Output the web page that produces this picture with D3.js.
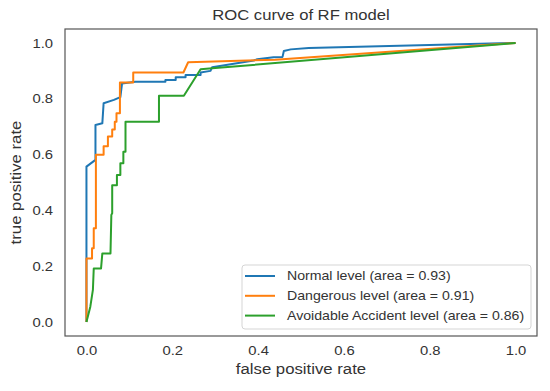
<!DOCTYPE html>
<html>
<head>
<meta charset="utf-8">
<script src="https://cdn.jsdelivr.net/npm/d3@7.9.0/dist/d3.min.js"></script>
<style>
  body { margin: 0; background: #fff; }
  svg { display: block; font-family: "Liberation Sans", Arial, sans-serif; }
</style>
</head>
<body>
<svg id="chart" width="550" height="391"></svg>
<script>
const title = 'ROC curve of RF model';
const xTicks = [0, 0.2, 0.4, 0.6, 0.8, 1.0];
const yTicks = [0, 0.2, 0.4, 0.6, 0.8, 1.0];

const labels = [
  'Normal level (area = 0.93)',
  'Dangerous level (area = 0.91)',
  'Avoidable Accident level (area = 0.86)'
];
const colors = ['#1f77b4', '#ff7f0e', '#2ca02c'];

const normalFpr = [0, 0, 0.021, 0.021, 0.037, 0.040, 0.064, 0.079, 0.083, 0.114, 0.149, 0.184, 0.184, 0.208, 0.208, 0.231, 0.231, 0.266, 0.266, 0.289, 0.293, 0.39, 0.398, 0.436, 0.457, 0.46, 0.476, 0.518, 1];
const normalTpr = [0, 0.557, 0.581, 0.706, 0.712, 0.784, 0.796, 0.806, 0.855, 0.861, 0.861, 0.861, 0.867, 0.867, 0.877, 0.877, 0.885, 0.885, 0.894, 0.90, 0.913, 0.937, 0.942, 0.949, 0.95, 0.971, 0.977, 0.982, 1];

const dangerFpr = [0, 0, 0.013, 0.013, 0.017, 0.017, 0.022, 0.022, 0.040, 0.040, 0.050, 0.050, 0.060, 0.060, 0.066, 0.066, 0.070, 0.070, 0.078, 0.078, 0.109, 0.109, 0.226, 0.237, 0.44, 1];
const dangerTpr = [0, 0.228, 0.228, 0.264, 0.264, 0.336, 0.336, 0.599, 0.599, 0.63, 0.63, 0.665, 0.665, 0.69, 0.69, 0.718, 0.718, 0.748, 0.748, 0.858, 0.858, 0.894, 0.894, 0.931, 0.94, 1];

const avoidFpr = [0, 0.009, 0.015, 0.017, 0.034, 0.037, 0.056, 0.058, 0.060, 0.060, 0.071, 0.071, 0.079, 0.079, 0.086, 0.086, 0.091, 0.091, 0.169, 0.169, 0.227, 0.266, 0.293, 1];
const avoidTpr = [0, 0.055, 0.115, 0.192, 0.192, 0.246, 0.246, 0.384, 0.39, 0.49, 0.49, 0.527, 0.527, 0.569, 0.569, 0.61, 0.61, 0.718, 0.718, 0.811, 0.811, 0.906, 0.909, 1];

const series = [
  { fpr: normalFpr, tpr: normalTpr },
  { fpr: dangerFpr, tpr: dangerTpr },
  { fpr: avoidFpr, tpr: avoidTpr }
];

const svg = d3.select('#chart');
const frame = { left: 65, right: 537, top: 29, bottom: 336 };
const sx = 1.14; // the reference text is a bit wide for its height

// widen a text horizontally around its own anchor
function stretch(sel) {
  sel.each(function () {
    const t = d3.select(this);
    const ax = +t.attr('x') || 0;
    t.attr('transform', `translate(${ax},0) scale(${sx},1) translate(${-ax},0)`);
  });
}

const x = d3.scaleLinear().domain([-0.05, 1.05]).range([frame.left, frame.right]);
const y = d3.scaleLinear().domain([-0.05, 1.05]).range([frame.bottom, frame.top]);

// tick labels only, no tick marks
const xAxis = svg.append('g')
  .attr('transform', `translate(0,${frame.bottom})`)
  .call(d3.axisBottom(x).tickValues(xTicks).tickFormat(d3.format('.1f')).tickSize(0).tickPadding(10));
const yAxis = svg.append('g')
  .attr('transform', `translate(${frame.left},0)`)
  .call(d3.axisLeft(y).tickValues(yTicks).tickFormat(d3.format('.1f')).tickSize(0).tickPadding(12));
[xAxis, yAxis].forEach(a => {
  a.select('.domain').remove();
  a.selectAll('text').attr('fill', '#333').style('font-size', '13px').style('font-family', '"Liberation Sans", Arial, sans-serif')
    .call(stretch);
});

const line = d3.line().x(d => x(d[0])).y(d => y(d[1]));

series.forEach((s, i) => {
  svg.append('path')
    .datum(s.fpr.map((f, j) => [f, s.tpr[j]]))
    .attr('fill', 'none')
    .attr('stroke', colors[i])
    .attr('stroke-width', 2)
    .attr('stroke-linejoin', 'round')
    .attr('d', line);
});

svg.append('rect')
  .attr('x', frame.left).attr('y', frame.top)
  .attr('width', frame.right - frame.left).attr('height', frame.bottom - frame.top)
  .attr('fill', 'none').attr('stroke', '#555').attr('stroke-width', 1.2);

// legend
const legend = svg.append('g');
legend.append('rect')
  .attr('x', 242).attr('y', 265).attr('width', 289).attr('height', 64)
  .attr('rx', 3).attr('fill', 'rgba(255,255,255,0.8)').attr('stroke', '#d5d5d5');
labels.forEach((lab, i) => {
  const ly = 276 + i * 19.8;
  legend.append('line')
    .attr('x1', 245).attr('x2', 275).attr('y1', ly).attr('y2', ly)
    .attr('stroke', colors[i]).attr('stroke-width', 2);
  legend.append('text')
    .attr('x', 287).attr('y', ly + 4.5)
    .attr('fill', '#333').style('font-size', '12.4px')
    .text(lab)
    .call(stretch);
});

svg.append('text')
  .attr('x', (frame.left + frame.right) / 2).attr('y', 20.5)
  .attr('text-anchor', 'middle').attr('fill', '#333').style('font-size', '14.6px')
  .text(title)
  .call(stretch);

svg.append('text')
  .attr('x', (frame.left + frame.right) / 2).attr('y', 374)
  .attr('text-anchor', 'middle').attr('fill', '#333').style('font-size', '14.7px')
  .text('false positive rate')
  .call(stretch);

svg.append('text')
  .attr('transform', `translate(21,${(frame.top + frame.bottom) / 2}) rotate(-90) scale(${sx},1)`)
  .attr('text-anchor', 'middle').attr('fill', '#333').style('font-size', '14.7px')
  .text('true positive rate');
</script>
</body>
</html>
